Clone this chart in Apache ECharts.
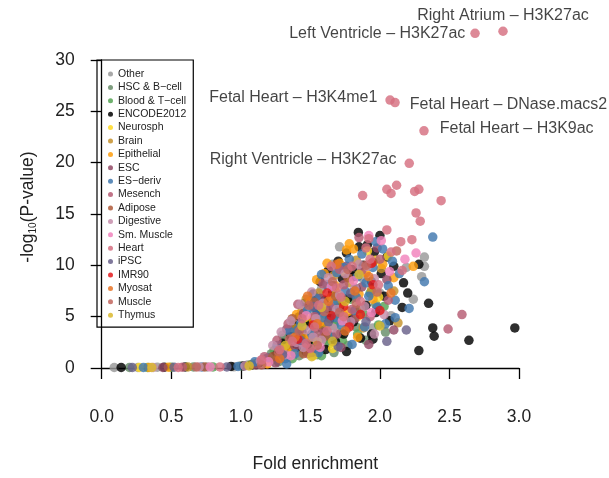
<!DOCTYPE html>
<html>
<head>
<meta charset="utf-8">
<script src="https://cdn.jsdelivr.net/npm/echarts@6/dist/echarts.min.js"></script>
<style>
html,body{margin:0;padding:0;background:#fff;}
#chart{width:609px;height:478px;}
</style>
</head>
<body>
<div id="chart"></div>
<script>
// ---- Data ----
const categories = ['Other','HSC & B\u2212cell','Blood & T\u2212cell','ENCODE2012','Neurosph','Brain','Epithelial','ESC','ES\u2212deriv','Mesench','Adipose','Digestive','Sm. Muscle','Heart','iPSC','IMR90','Myosat','Muscle','Thymus'];
const categoryColors = ['#999999','#678C69','#55A354','#000000','#FFD924','#C5912B','#FF9D0C','#924965','#4178AE','#B65C73','#AF5B39','#C58DAA','#F182BC','#D56F80','#69608A','#E41A1C','#E67326','#C2655D','#DAB92E'];

const xTicks = [0, 0.5, 1, 1.5, 2, 2.5, 3];
const yTicks = [0, 5, 10, 15, 20, 25, 30];

const otherPts = [[0.09,0.05],[0.26,0.05],[0.4,0.08],[0.76,0.1],[0.95,0.12],[1.05,0.3],[1.18,0.9],[1.3,3.2],[1.34,1.1],[1.4,4.0],[1.47,2.9],[1.52,5.3],[1.58,7.7],[1.63,2.3],[1.68,5.3],[1.71,11.8],[1.76,3.8],[1.82,6.9],[1.88,8.7],[1.95,3.9],[2.0,7.3],[2.08,5.1],[2.19,9.8],[2.32,10.8],[2.32,9.9],[2.30,8.9],[2.24,6.7],[1.56,5.2],[1.73,6.6],[1.85,9.7],[1.66,10.1]];
const hscPts = [[0.2,0.05],[0.66,0.1],[1.0,0.2],[1.12,0.5],[1.22,1.4],[1.27,0.6],[1.31,2.9],[1.35,1.8],[1.39,3.4],[1.42,1.2],[1.46,4.1],[1.49,2.2],[1.53,3.7],[1.55,1.3],[1.6,2.8],[1.64,5.3],[1.67,1.5],[1.72,3.4],[1.77,2.2],[1.83,4.0],[1.9,2.7],[1.97,6.2],[2.04,3.5]];
const bloodPts = [[0.33,0.05],[0.5,0.08],[0.8,0.1],[1.07,0.3],[1.16,0.6],[1.24,1.7],[1.29,1.0],[1.33,2.5],[1.37,0.9],[1.41,3.2],[1.45,1.8],[1.48,4.6],[1.52,2.5],[1.55,3.9],[1.58,1.2],[1.61,5.2],[1.64,2.4],[1.67,4.1],[1.7,6.4],[1.73,2.7],[1.76,4.7],[1.79,6.7],[1.84,3.3],[1.88,5.3],[1.93,7.3],[1.99,4.2],[2.03,6.0],[1.57,2.9],[1.6,3.6],[1.63,3.2],[1.66,3.0],[1.69,4.7],[1.5,2.0]];
const encodePts = [[0.14,0.05],[0.45,0.08],[0.6,0.1],[0.93,0.15],[1.02,0.2],[1.08,0.3],[1.13,0.5],[1.25,1.2],[1.3,2.4],[1.33,1.5],[1.36,3.1],[1.38,4.2],[1.4,2.0],[1.42,5.0],[1.44,3.5],[1.46,6.3],[1.47,1.6],[1.5,4.4],[1.52,7.2],[1.53,2.8],[1.55,5.6],[1.57,8.4],[1.58,3.9],[1.6,6.6],[1.61,1.8],[1.63,9.5],[1.64,4.8],[1.66,7.4],[1.68,2.6],[1.7,10.4],[1.71,5.9],[1.73,8.7],[1.74,3.3],[1.76,11.2],[1.77,6.8],[1.845,13.2],[1.8,9.6],[1.81,4.5],[1.83,7.7],[1.85,11.8],[1.86,2.9],[1.88,10.0],[1.9,6.1],[1.91,12.0],[1.94,3.3],[1.94,8.4],[1.96,11.3],[1.97,5.4],[2.0,12.9],[2.01,9.2],[2.03,7.0],[2.05,10.8],[2.07,4.6],[2.1,9.9],[2.17,8.3],[2.16,5.9],[2.28,10.1],[2.2,7.3],[2.28,1.7],[2.35,6.3],[2.38,3.9],[2.39,3.1],[2.64,2.7],[2.97,3.9],
  [1.41,2.6],[1.43,3.1],[1.45,2.7],[1.48,2.3],[1.76,1.6],[1.79,4.8],[1.81,8.9],[1.95,2.8],[1.62,5.8],[1.35,1.8]];
const neurosphPts = [[0.27,0.05],[1.37,1.5],[1.46,4.9],[1.52,1.2],[1.55,2.6],[1.69,7.3],[1.66,1.9],[1.74,9.4],[1.84,5.0],[1.91,11.4],[1.97,10.5],[1.99,6.9],[2.06,10.9]];
const brainPts = [[0.62,0.1],[1.09,0.4],[1.21,0.9],[1.3,1.9],[1.38,3.9],[1.44,5.6],[1.5,3.0],[1.56,7.3],[1.62,4.3],[1.67,9.0],[1.72,6.3],[1.78,8.3],[1.83,10.5],[1.88,3.9],[1.94,7.6],[2.01,9.7],[2.13,4.4],[2.1,7.5],[1.47,6.7],[1.58,4.1],[1.74,5.1]];
const epithelialPts = [[0.34,0.05],[0.48,0.08],[1.19,0.4],[1.27,1.0],[1.34,2.0],[1.4,5.2],[1.45,3.0],[1.5,6.5],[1.545,8.6],[1.57,4.5],[1.6,9.2],[1.65,6.9],[1.71,10.2],[1.76,11.5],[1.77,5.5],[1.81,11.6],[1.85,7.2],[1.9,9.3],[1.95,6.7],[2.02,10.1],[2.1,8.8],[2.24,9.9],[1.84,3.0],[1.62,10.2],[1.68,8.0],[1.78,12.1],[1.52,4.7]];
const escPts = [[0.44,0.05],[1.11,0.3],[1.25,0.5],[1.33,3.8],[1.39,2.1],[1.45,5.3],[1.51,1.5],[1.57,6.8],[1.6,3.5],[1.66,8.0],[1.72,2.0],[1.76,9.9],[1.82,4.8],[1.87,7.9],[1.92,2.3],[1.98,11.7],[2.05,8.6],[2.1,3.7]];
const esDerivPts = [[0.3,0.05],[0.72,0.1],[0.98,0.15],[1.1,0.6],[1.2,1.0],[1.26,2.2],[1.32,0.9],[1.35,3.6],[1.39,1.4],[1.43,4.3],[1.45,2.4],[1.48,5.7],[1.51,3.3],[1.54,6.8],[1.56,1.5],[1.59,4.9],[1.62,8.1],[1.65,3.1],[1.67,6.2],[1.69,9.3],[1.72,4.2],[1.75,7.5],[1.78,10.6],[1.8,2.3],[1.82,5.6],[1.84,8.9],[1.87,11.1],[1.89,4.0],[1.92,7.0],[1.95,9.8],[1.98,5.9],[2.02,11.6],[2.04,4.3],[2.06,8.0],[2.09,10.4],[2.11,6.6],[2.14,9.2],[2.11,4.9],[2.32,8.4],[2.38,12.75],[2.21,5.8],
  [1.545,5.6],[1.6,5.8],[1.68,4.9],[1.74,9.8],[1.83,6.9],[1.9,8.3],[1.97,12.3],[1.41,3.7],[1.58,9.1],[1.33,0.4]];
const mesenchPts = [[0.58,0.08],[1.17,1.1],[1.26,2.7],[1.34,4.3],[1.41,6.2],[1.46,2.2],[1.53,5.0],[1.59,8.2],[1.64,6.0],[1.69,3.3],[1.74,8.1],[1.8,5.7],[1.87,9.5],[1.93,5.0],[2.0,10.6],[2.06,6.6],[2.59,5.2],[2.49,3.8],[1.48,1.4],[1.56,3.4],[1.71,9.6],[1.85,12.7]];
const adiposePts = [[0.74,0.1],[1.23,1.1],[1.37,4.8],[1.45,1.4],[1.53,6.4],[1.61,3.1],[1.68,7.0],[1.77,8.8],[1.86,5.8],[1.95,10.3]];
const digestivePts = [[0.37,0.05],[0.7,0.1],[1.03,0.2],[1.14,0.7],[1.23,2.2],[1.29,3.5],[1.32,1.3],[1.36,4.6],[1.4,2.5],[1.43,6.2],[1.47,3.7],[1.51,7.4],[1.54,4.8],[1.59,6.3],[1.63,8.8],[1.66,3.9],[1.71,7.1],[1.75,9.2],[1.79,4.5],[1.85,10.1],[1.89,6.0],[1.96,8.7],[2.03,5.2],[1.96,3.3],[1.45,2.0],[1.52,3.0],[1.58,2.7],[1.69,5.7],[1.82,7.8],[1.91,9.9],[1.38,2.9]];
const smMusclePts = [[0.78,0.1],[1.2,0.6],[1.36,1.2],[1.47,5.1],[1.57,2.0],[1.65,7.9],[1.73,4.6],[1.81,8.5],[1.92,12.9],[1.94,5.4],[2.01,12.4],[2.07,9.4],[2.26,11.2],[2.18,10.6]];
const heartPts = [[0.55,0.05],[0.85,0.1],[1.15,0.8],[1.28,1.8],[1.37,2.6],[1.44,4.8],[1.5,1.9],[1.56,6.1],[1.62,3.6],[1.69,7.8],[1.74,5.0],[1.8,9.9],[1.86,6.5],[1.93,10.6],[1.99,8.1],[2.08,11.3],[2.16,9.5],[1.47,2.4],[1.53,4.0],[1.65,9.9],[1.72,6.9],[1.9,11.7],
  [1.876,16.8],[2.05,17.4],[2.08,17.0],[2.12,17.8],[2.25,17.2],[2.28,17.4],[2.44,16.3],[2.26,15.1],[2.29,14.3],[2.05,13.45],[2.15,12.3],[2.23,12.5],[1.92,12.6]];
const ipscPts = [[0.22,0.05],[0.52,0.08],[0.9,0.1],[1.3,1.3],[1.43,2.7],[1.52,6.0],[1.63,4.5],[1.7,2.1],[1.79,7.3],[1.9,4.5],[2.19,3.7],[2.05,2.6]];
const imr90Pts = [[1.41,2.8],[1.52,4.2],[1.62,7.3],[1.65,5.1],[1.74,6.0],[1.78,4.0],[1.86,5.2],[1.95,8.1],[1.94,10.2],[2.0,5.6]];
const myosatPts = [[1.28,0.9],[1.39,3.0],[1.48,7.0],[1.55,4.3],[1.63,6.5],[1.69,10.1],[1.75,3.6],[1.82,7.5],[1.92,8.9],[2.08,7.3]];
const musclePts = [[0.68,0.1],[1.15,0.3],[1.27,1.6],[1.35,2.8],[1.42,3.6],[1.49,6.1],[1.55,2.2],[1.6,5.5],[1.66,8.4],[1.71,5.4],[1.77,9.6],[1.83,6.3],[1.9,10.0],[1.98,7.4],[2.12,11.4]];
const thymusPts = [[0.36,0.05],[1.06,0.2],[1.32,2.2],[1.44,4.1],[1.51,1.1],[1.58,5.9],[1.66,2.6],[1.75,6.5],[1.85,9.1],[2.0,4.1]];

// annotated Heart epigenomes
const annotationNames = ['Right Atrium \u2013 H3K27ac','Left Ventricle \u2013 H3K27ac','Fetal Heart \u2013 H3K4me1','Fetal Heart \u2013 DNase.macs2','Fetal Heart \u2013 H3K9ac','Right Ventricle \u2013 H3K27ac'];
const annotationPoints = [[2.885,32.8],[2.684,32.6],[2.073,26.1],[2.109,25.85],[2.317,23.1],[2.211,19.94]];

const seriesPoints = [otherPts,hscPts,bloodPts,encodePts,neurosphPts,brainPts,epithelialPts,escPts,esDerivPts,mesenchPts,adiposePts,digestivePts,smMusclePts,heartPts,ipscPts,imr90Pts,myosatPts,musclePts,thymusPts];

// ---- Chart ----
const FONT = '"Liberation Sans", Helvetica, Arial, sans-serif';
const labelPlacement = [
  {position:'top', distance:3, offset:[0,0]},
  {position:'left', distance:5, offset:[0,0]},
  {position:'left', distance:8, offset:[0,-2]},
  {position:'right', distance:10, offset:[0,2]},
  {position:'right', distance:11, offset:[0,-2]},
  {position:'left', distance:8, offset:[0,-4]}
];

const series = categories.map((name, i) => {
  let data = seriesPoints[i].map(p => ({value: p}));
  if (name === 'Heart') {
    annotationPoints.forEach((p, k) => {
      data.push({
        value: p,
        label: {
          show: true,
          formatter: annotationNames[k],
          position: labelPlacement[k].position,
          distance: labelPlacement[k].distance,
          offset: labelPlacement[k].offset,
          color: '#1a1a1a',
          fontSize: 16,
          fontFamily: FONT
        }
      });
    });
  }
  return {
    name: name,
    type: 'scatter',
    data: data,
    symbolSize: 9.5,
    clip: false,
    itemStyle: {color: categoryColors[i], opacity: 0.82},
    emphasis: {disabled: true},
    z: name === 'Heart' ? 3 : 2
  };
});

const chart = echarts.init(document.getElementById('chart'), null, {renderer: 'canvas'});
chart.setOption({
  animation: false,
  backgroundColor: '#fff',
  textStyle: {fontFamily: FONT},
  grid: {left: 101.7, right: 90, top: 60, bottom: 105, containLabel: false},
  legend: {
    orient: 'vertical',
    left: 97,
    top: 60,
    data: categories.map((c, i) => ({name: c, icon: 'circle', itemStyle: {color: categoryColors[i], opacity: 0.85}})),
    itemWidth: 5,
    itemHeight: 5,
    itemGap: 1.4,
    padding: [8, 7, 6, 11],
    borderColor: '#000',
    borderWidth: 1.2,
    selectedMode: false,
    textStyle: {fontSize: 10.5, lineHeight: 12, color: '#222', fontFamily: FONT}
  },
  xAxis: {
    type: 'value',
    min: xTicks[0],
    max: xTicks[xTicks.length - 1],
    interval: 0.5,
    offset: 14,
    name: 'Fold enrichment',
    nameLocation: 'middle',
    nameGap: 73,
    nameTextStyle: {fontSize: 17.5, color: '#222', fontFamily: FONT, padding: [0, 0, 0, 10]},
    axisLine: {lineStyle: {color: '#000', width: 1.3}},
    axisTick: {length: 11, lineStyle: {color: '#000', width: 1.3}},
    axisLabel: {fontSize: 17.5, color: '#222', margin: 26, formatter: v => v.toFixed(1), fontFamily: FONT},
    splitLine: {show: false}
  },
  yAxis: {
    type: 'value',
    min: yTicks[0],
    max: yTicks[yTicks.length - 1],
    interval: 5,
    offset: 5,
    name: '{a|-log}{b|10}{a|(P-value)}',
    nameLocation: 'middle',
    nameRotate: 90,
    nameGap: 58,
    nameTextStyle: {
      color: '#222',
      fontFamily: FONT,
      padding: [0, 0, 0, 14],
      rich: {
        a: {fontSize: 17.5, lineHeight: 22, color: '#222', fontFamily: FONT},
        b: {fontSize: 10, lineHeight: 12, verticalAlign: 'bottom', color: '#222', fontFamily: FONT}
      }
    },
    axisLine: {lineStyle: {color: '#000', width: 1.3}},
    axisTick: {length: 11, lineStyle: {color: '#000', width: 1.3}},
    axisLabel: {fontSize: 17.5, color: '#222', margin: 22, fontFamily: FONT},
    splitLine: {show: false}
  },
  series: series
});
</script>
</body>
</html>
